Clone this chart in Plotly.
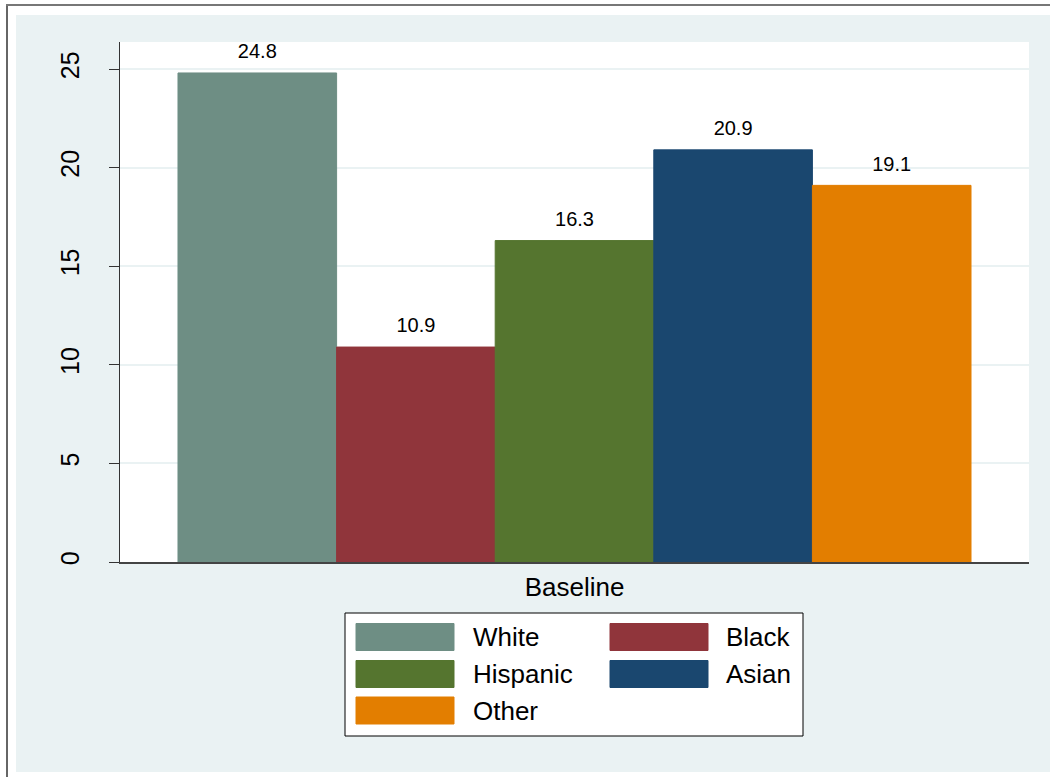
import plotly.graph_objects as go

# ---- data ----
category = ["Baseline"]
groups = ["White", "Black", "Hispanic", "Asian", "Other"]
values = [24.8, 10.9, 16.3, 20.9, 19.1]
colors = ["#6E8E84", "#90353B", "#55752F", "#1A476F", "#E37E00"]
y_ticks = [0, 5, 10, 15, 20, 25]

W, H = 1050, 777
L, T, R, B = 120, 42, 21, 215
PW, PH = W - L - R, H - T - B

def px(x):
    return (x - L) / PW

def py(y):
    return (H - B - y) / PH

FONT = "Liberation Sans, Arial, sans-serif"
BG = "#EAF2F3"
GAP = 0.1276

fig = go.Figure()
for g, v, c in zip(groups, values, colors):
    fig.add_trace(go.Bar(
        x=category, y=[v], name=g, offsetgroup=g,
        marker=dict(color=c, line=dict(color=c, width=1)),
        showlegend=False,
    ))
for g, v in zip(groups, values):
    fig.add_trace(go.Scatter(
        x=category, y=[v], name=g, offsetgroup=g, mode="markers+text",
        marker=dict(size=14, opacity=0),
        text=[f"{v:.1f}"], textposition="top center",
        textfont=dict(size=20, color="black", family=FONT),
        showlegend=False, hoverinfo="skip", cliponaxis=False,
    ))

shapes = []
# white outer strips and gray frame
shapes.append(dict(type="rect", xref="paper", yref="paper", x0=px(0), x1=px(16), y0=py(H), y1=py(0),
                   fillcolor="white", line=dict(width=0), layer="above"))
shapes.append(dict(type="rect", xref="paper", yref="paper", x0=px(0), x1=px(W), y0=py(15), y1=py(0),
                   fillcolor="white", line=dict(width=0), layer="above"))
shapes.append(dict(type="rect", xref="paper", yref="paper", x0=px(0), x1=px(W), y0=py(H), y1=py(772),
                   fillcolor="white", line=dict(width=0), layer="above"))
shapes.append(dict(type="line", xref="paper", yref="paper", x0=px(7), x1=px(7), y0=py(H), y1=py(5),
                   line=dict(color="#666666", width=2), layer="above"))
shapes.append(dict(type="line", xref="paper", yref="paper", x0=px(6), x1=px(W), y0=py(5), y1=py(5),
                   line=dict(color="#777777", width=2), layer="above"))

# custom legend
shapes.append(dict(type="rect", xref="paper", yref="paper", x0=px(345), x1=px(803), y0=py(736), y1=py(613),
                   fillcolor="white", line=dict(color="black", width=1), layer="above"))
annotations = []
col_sw = [356, 610]
col_tx = [471, 724]
row_c = [637, 674, 710.5]
for i, (g, c) in enumerate(zip(groups, colors)):
    r, k = i // 2, i % 2
    shapes.append(dict(type="rect", xref="paper", yref="paper",
                       x0=px(col_sw[k]), x1=px(col_sw[k] + 98),
                       y0=py(row_c[r] + 13.5), y1=py(row_c[r] - 13.5),
                       fillcolor=c, line=dict(color=c, width=1), layer="above"))
    annotations.append(dict(xref="paper", yref="paper", x=px(col_tx[k]), y=py(row_c[r]),
                            text=g, showarrow=False, xanchor="left", yanchor="middle",
                            font=dict(size=26, color="black", family=FONT)))

fig.update_layout(
    width=W, height=H,
    margin=dict(l=L, r=R, t=T, b=B, pad=0),
    paper_bgcolor=BG, plot_bgcolor="white",
    barmode="group", bargap=GAP, bargroupgap=0,
    scattermode="group", scattergap=GAP,
    font=dict(family=FONT, color="black"),
    shapes=shapes, annotations=annotations,
    showlegend=False,
    xaxis=dict(range=[-0.5, 0.5], showgrid=False, showline=True, linecolor="#444444", linewidth=2,
               ticks="", tickfont=dict(size=26, color="black", family=FONT), ticklabelstandoff=1,
               zeroline=False, fixedrange=True),
    yaxis=dict(range=[0, 26.37], tickvals=y_ticks, ticktext=[str(t) for t in y_ticks],
               showgrid=True, gridcolor=BG, gridwidth=2, zeroline=False,
               showline=True, linecolor="#333333", linewidth=1,
               ticks="outside", ticklen=10, tickcolor="#333333", tickwidth=1,
               tickangle=-90, tickfont=dict(size=25, color="black", family=FONT),
               ticklabelstandoff=20),
)

fig.write_html("out.html", config={"displayModeBar": False},
               post_script="document.body.style.margin='0';")
